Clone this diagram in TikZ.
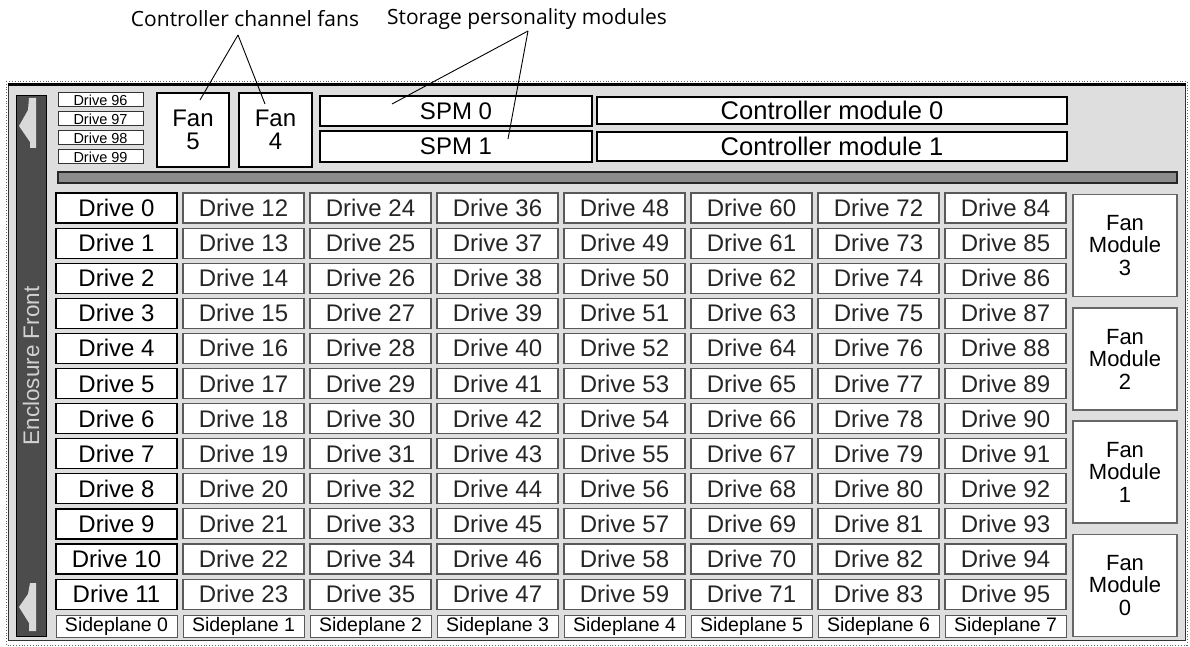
\documentclass[tikz,border=0pt]{standalone}
\usepackage{fontspec}
\setmainfont{Liberation Sans}
\newfontfamily\annotfont{Open Sans}
\begin{document}
\begin{tikzpicture}[x=1pt,y=-1pt,
  box/.style={draw=black!85,fill=white,line width=1pt,inner sep=0pt,outer sep=0pt,align=center},
  drvA/.style={box,draw=black,line width=1.2pt,minimum width=121pt,minimum height=30pt,font=\fontsize{24}{24}\selectfont},
  drvB/.style={box,draw=black!65,line width=1.1pt,minimum width=121pt,minimum height=30pt,font=\fontsize{24}{24}\selectfont,text=black!85},
  sidep/.style={box,draw=black!65,line width=1pt,minimum width=121pt,minimum height=22pt,font=\fontsize{19.5}{20}\selectfont},
  smalld/.style={box,draw=black!80,minimum width=85pt,minimum height=14pt,font=\fontsize{14.5}{14.5}\selectfont},
  fanmod/.style={box,draw=black!60,line width=1.1pt,minimum width=104pt,minimum height=102pt,font=\fontsize{22}{22.5}\selectfont},
  topbox/.style={box,draw=black,line width=1.1pt,font=\fontsize{24}{23}\selectfont},
  annot/.style={font=\annotfont\fontsize{21}{21}\selectfont,inner sep=0pt,anchor=base},
  lead/.style={draw=black,line width=0.9pt}]
\useasboundingbox (0,0) rectangle (1190,647);
% outer dotted frame
\draw[black!60,dotted,line width=0.8pt] (6,81) rectangle (1187,645);
% panel
\node[draw=black!80,fill=black!13,line width=1pt,inner sep=0pt,minimum width=1177pt,minimum height=555pt] (panel) at (596.5,362.5) {};
\draw[black,line width=2.5pt] (panel.north west) -- (panel.north east);
% left dark bar
\node[draw=black,fill=black!70,line width=1pt,inner sep=0pt,minimum width=30pt,minimum height=540pt,
  label={[rotate=90,text=black!18,font=\fontsize{22.5}{22}\selectfont]center:Enclosure Front}] (bar) at (31,366) {};
\fill[black!15] (29,98) -- (36,98) -- (36,148) -- (30,148) -- (30,142) -- (19,126) -- (28,110) -- cycle;
\fill[black!15] (30,583) -- (36,583) -- (36,631) -- (29,631) -- (29,623) -- (19,607) -- (28,594) -- cycle;
% drives 96-99
\foreach \i/\y in {96/100,97/119,98/138,99/157}{
  \node[smalld] (d\i) at (100.5,\y) {Drive \i};
}
% fans
\node[topbox,minimum width=72pt,minimum height=74pt] (fan5) at (193,130) {Fan\\5};
\node[topbox,minimum width=73pt,minimum height=74pt] (fan4) at (275.5,130) {Fan\\4};
% SPM
\node[topbox,minimum width=272pt,minimum height=30pt] (spm0) at (456,111) {SPM 0};
\node[topbox,minimum width=272pt,minimum height=31pt] (spm1) at (456,146.5) {SPM 1};
% controller modules
\node[topbox,minimum width=470pt,minimum height=27pt,font=\fontsize{25.5}{25.5}\selectfont] (cm0) at (832,110.5) {Controller module 0};
\node[topbox,minimum width=470pt,minimum height=29pt,font=\fontsize{25.5}{25.5}\selectfont] (cm1) at (832,146.5) {Controller module 1};
% horizontal bar
\node[draw=black!85,fill=black!45,line width=1.2pt,inner sep=0pt,minimum width=1119pt,minimum height=11pt] (hbar) at (617.5,177.5) {};
% drive grid
\foreach \r in {0,...,11}{
  \node[drvA] (d\r) at (116.5,{208+35.1*\r}) {Drive \r};
}
\foreach \c in {1,...,7}{
  \foreach \r in {0,...,11}{
    \pgfmathtruncatemacro\n{12*\c+\r}
    \node[drvB] (d\n) at ({116.5+127*\c},{208+35.1*\r}) {Drive \n};
  }
}
\foreach \c in {0,...,7}{
  \node[sidep] (sp\c) at ({116.5+127*\c},626) {Sideplane \c};
}
% fan modules
\node[fanmod] (fm3) at (1125,245.5) {Fan\\Module\\3};
\node[fanmod] (fm2) at (1125,359) {Fan\\Module\\2};
\node[fanmod] (fm1) at (1125,472) {Fan\\Module\\1};
\node[fanmod] (fm0) at (1125,585.5) {Fan\\Module\\0};
% annotations
\node[annot] (ccf) at (245,27) {Controller channel fans};
\node[annot] (spmlab) at (527,25) {Storage personality modules};
\coordinate (f5e) at (200,100);
\coordinate (f4e) at (265,104);
\coordinate (s0e) at (392,104);
\coordinate (s1e) at (508,139);
\draw[lead] ([xshift=-7pt,yshift=-8pt]ccf.base) -- (f5e);
\draw[lead] ([xshift=-7pt,yshift=-8pt]ccf.base) -- (f4e);
\draw[lead] ([xshift=1pt,yshift=-6pt]spmlab.base) -- (s0e);
\draw[lead] ([xshift=1pt,yshift=-6pt]spmlab.base) -- (s1e);
\end{tikzpicture}
\end{document}
